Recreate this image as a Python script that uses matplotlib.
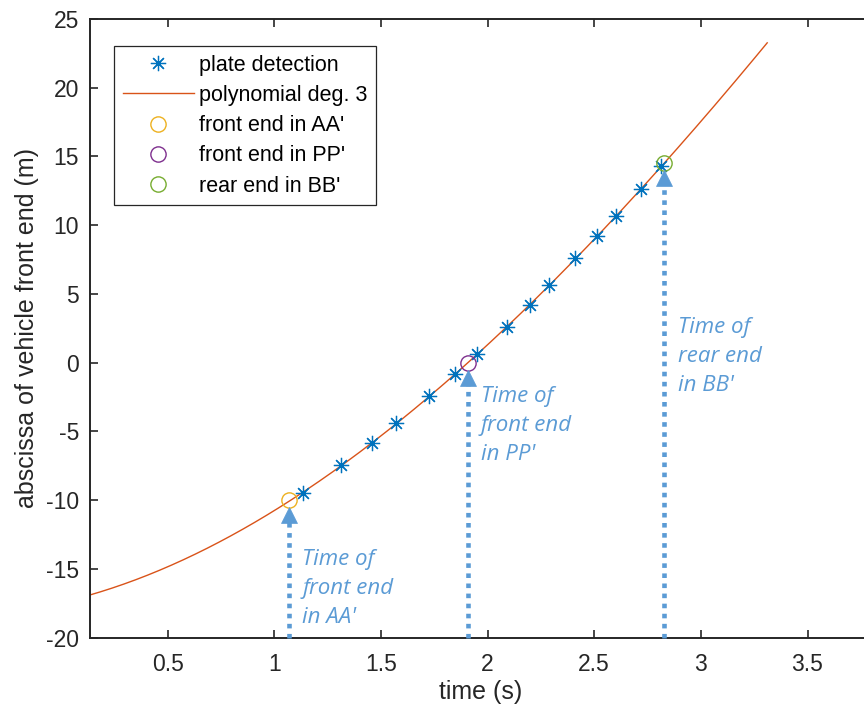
import numpy as np
import matplotlib.pyplot as plt

# plate detections (time in s, abscissa in m)
t_detect = [1.133, 1.311, 1.459, 1.571, 1.724, 1.847, 1.952, 2.091, 2.199,
            2.288, 2.410, 2.513, 2.602, 2.719, 2.813]
x_detect = [-9.45, -7.46, -5.84, -4.38, -2.44, -0.79, 0.60, 2.58, 4.20,
            5.64, 7.61, 9.21, 10.66, 12.63, 14.32]

# points (deg. 3 polynomial)
t_fit = [0.136, 0.738, 1.070, 1.907, 2.829, 3.311]
x_fit = [-16.87, -13.16, -10.0, 0.0, 14.5, 23.28]

# key events on the fitted curve
t_events = [1.070, 1.907, 2.829]
x_events = [-10.0, 0.0, 14.5]
event_labels = ["front end in AA'", "front end in PP'", "rear end in BB'"]
event_colors = ["#EDB120", "#7E2F8E", "#77AC30"]
notes = ["Time of\nfront end\nin AA'", "Time of\nfront end\nin PP'", "Time of\nrear end\nin BB'"]

# where each note's top line sits (data units)
note_top = [-13.55, -1.7, 3.3]

BLUE = "#0072BD"
ORANGE = "#D95319"
ARROW = "#5B9BD5"
INK = "#262626"

plt.rcParams["font.family"] = ["Liberation Sans", "DejaVu Sans"]
plt.rcParams["axes.unicode_minus"] = False

fig = plt.figure(figsize=(8.64, 7.14), dpi=100)
ax = fig.add_axes([90 / 864, 76.3 / 714, 781.5 / 864, 618.7 / 714])

coef = np.polyfit(t_fit, x_fit, 3)
tt = np.linspace(t_fit[0], t_fit[-1], 400)

ax.plot(t_detect, x_detect, linestyle="none", marker=(8, 2, 0), ms=11,
        mec=BLUE, mew=0.9, color=BLUE, label="plate detection", zorder=3)
ax.plot(tt, np.polyval(coef, tt), color=ORANGE, lw=1.0, label="polynomial deg. 3", zorder=2)
for t, x, lab, c in zip(t_events, x_events, event_labels, event_colors):
    ax.plot([t], [x], linestyle="none", marker="o", ms=11, mfc="none", mec=c, mew=1.0,
            label=lab, zorder=4)

# dotted arrows and notes
for t, x, txt, ytop in zip(t_events, x_events, notes, note_top):
    tip = x - 0.6
    head = 1.0
    ax.plot([t, t], [-20, tip - head + 0.05], color=ARROW, lw=3.3,
            linestyle=(0, (1, 1.2)), dash_capstyle="butt", zorder=5, clip_on=False)
    ax.plot([t], [tip - head / 2], marker="^", ms=12, color=ARROW, mec=ARROW, mew=0.5,
            linestyle="none", zorder=5)
    ax.text(t + 0.062, ytop, txt, color=ARROW, fontsize=16, fontstyle="italic",
            family="Open Sans", va="top", ha="left", linespacing=1.5)

ax.set_xlim(0.136, 3.80)
ax.set_ylim(-20, 25)
ax.set_xticks([0.5, 1, 1.5, 2, 2.5, 3, 3.5], ["0.5", "1", "1.5", "2", "2.5", "3", "3.5"])
ax.set_yticks(range(-20, 26, 5))
ax.tick_params(direction="in", length=6, width=1.2, colors=INK, labelsize=16.5,
               top=True, right=True)
ax.tick_params(axis="x", pad=11)
ax.tick_params(axis="y", pad=8)
for s in ax.spines.values():
    s.set_color(INK)
    s.set_linewidth(1.4)

ax.set_xlabel("time (s)", fontsize=18, color=INK, labelpad=3)
ax.set_ylabel("abscissa of vehicle front end (m)", fontsize=18, color=INK, labelpad=5)

leg = ax.legend(loc="upper left", bbox_to_anchor=(0.0307, 0.9564), borderaxespad=0,
                fontsize=15.5, handlelength=3.3, handletextpad=0.25, labelspacing=0.43,
                borderpad=0.4, fancybox=False, framealpha=1, edgecolor=INK)
leg.get_frame().set_linewidth(0.9)

fig.savefig("out.png", dpi=100)
